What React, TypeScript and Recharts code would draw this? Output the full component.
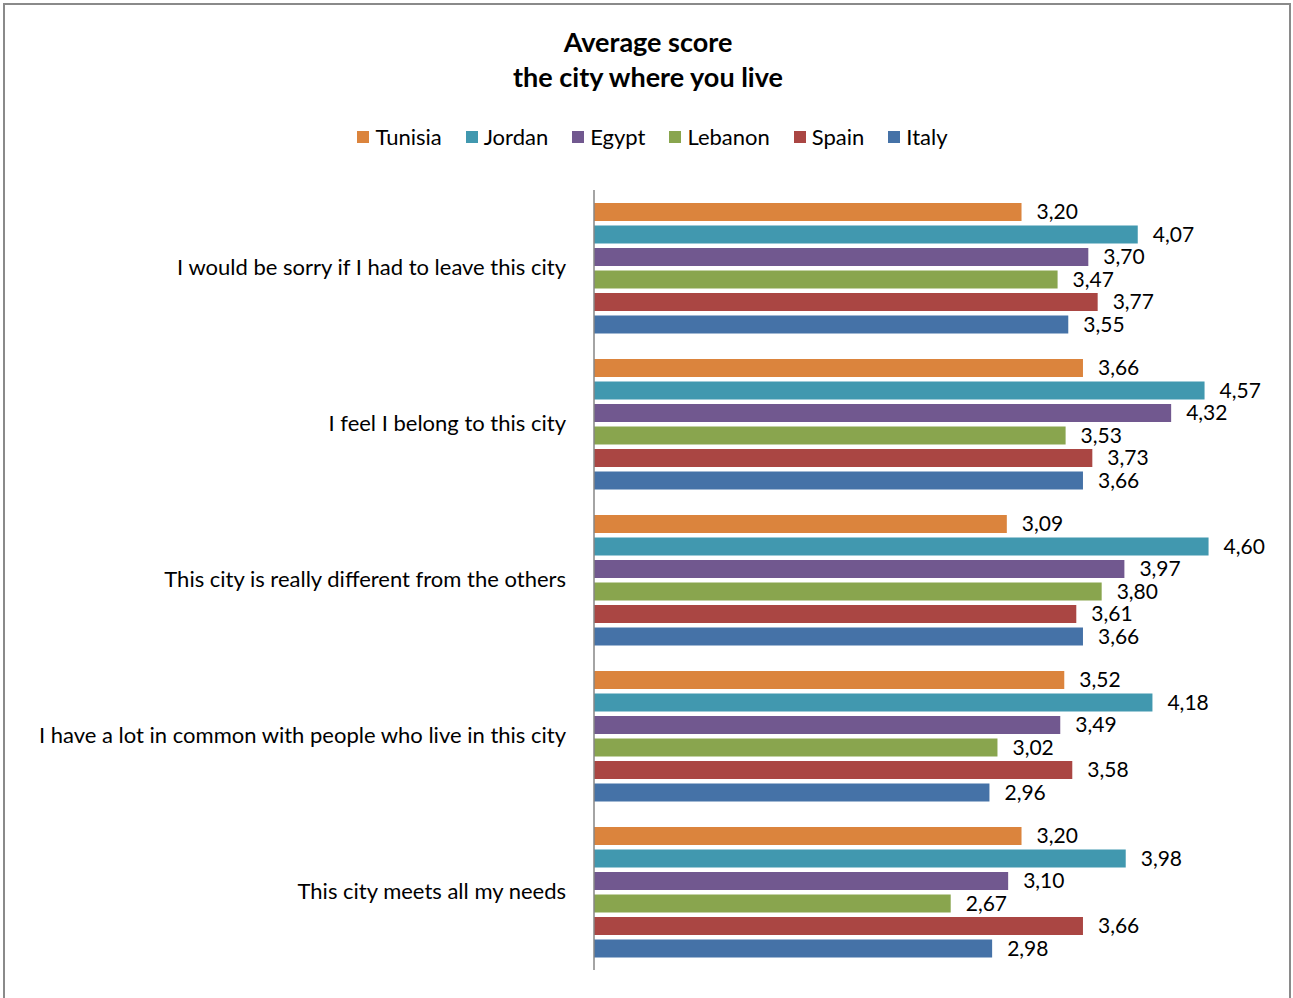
import { Bar, BarChart, LabelList, XAxis, YAxis } from 'recharts';

const categories = [
  'I would be sorry if I had to leave this city',
  'I feel I belong to this city',
  'This city is really different from the others',
  'I have a lot in common with people who live in this city',
  'This city meets all my needs',
];

const tunisia = [3.2, 3.66, 3.09, 3.52, 3.2];
const jordan = [4.07, 4.57, 4.6, 4.18, 3.98];
const egypt = [3.7, 4.32, 3.97, 3.49, 3.1];
const lebanon = [3.47, 3.53, 3.8, 3.02, 2.67];
const spain = [3.77, 3.73, 3.61, 3.58, 3.66];
const italy = [3.55, 3.66, 3.66, 2.96, 2.98];

const SERIES = [
  { key: 'Tunisia', values: tunisia, color: '#DB843D' },
  { key: 'Jordan', values: jordan, color: '#4198AF' },
  { key: 'Egypt', values: egypt, color: '#71588F' },
  { key: 'Lebanon', values: lebanon, color: '#89A54E' },
  { key: 'Spain', values: spain, color: '#AA4643' },
  { key: 'Italy', values: italy, color: '#4572A7' },
];

const data = categories.map((name, i) => {
  const row: Record<string, string | number> = { name };
  SERIES.forEach((s) => { row[s.key] = s.values[i]; });
  return row;
});

const FONT = 'Lato, "Open Sans", sans-serif';

const fmt = (v: any) => Number(v).toFixed(2).replace('.', ',');

function CategoryTick({ x, y, payload }: any) {
  return (
    <text x={x} y={y} dy={7} textAnchor="end" fontSize={22} fill="#000" fontFamily={FONT}>
      {payload.value}
    </text>
  );
}

function ChartLegend() {
  return (
    <div style={{ position: 'absolute', left: 6, top: 123, width: 1293, display: 'flex', justifyContent: 'center', gap: 24, fontFamily: FONT, fontSize: 22, lineHeight: '28px', color: '#000' }}>
      {SERIES.map((s) => (
        <span key={s.key} style={{ display: 'flex', alignItems: 'center' }}>
          <span style={{ width: 12, height: 12, background: s.color, marginRight: 6, display: 'inline-block' }} />
          {s.key}
        </span>
      ))}
    </div>
  );
}

export default function App() {
  return (
    <div style={{ position: 'absolute', left: 0, top: 0, width: 1293, height: 998, overflow: 'hidden', background: '#fff' }}>
      <div style={{ position: 'absolute', left: 3, top: 3, width: 1284, height: 1010, border: '2px solid #8a8a8a' }} />
      <div style={{ position: 'absolute', left: 0, top: 24, width: 1296, textAlign: 'center', fontFamily: FONT, fontWeight: 700, fontSize: 27, lineHeight: '35px', color: '#000' }}>
        Average score<br />the city where you live
      </div>
      <ChartLegend />
      <div style={{ position: 'absolute', left: 0, top: 0 }}>
        <BarChart
          width={1293}
          height={998}
          data={data}
          layout="vertical"
          margin={{ top: 190, right: 31, bottom: 28, left: 0 }}
          barSize={18}
          barGap={4.5}
        >
          <XAxis type="number" domain={[0, 5]} hide />
          <YAxis
            type="category"
            dataKey="name"
            width={594}
            tickLine={false}
            tickSize={0}
            tickMargin={28}
            axisLine={{ stroke: '#868686', strokeWidth: 1.5 }}
            tick={<CategoryTick />}
            interval={0}
          />
          {SERIES.map((s) => (
            <Bar key={s.key} dataKey={s.key} fill={s.color} isAnimationActive={false}>
              <LabelList dataKey={s.key} position="right" offset={15} formatter={fmt} fill="#000" fontSize={21} fontFamily={FONT} />
            </Bar>
          ))}
        </BarChart>
      </div>
    </div>
  );
}
